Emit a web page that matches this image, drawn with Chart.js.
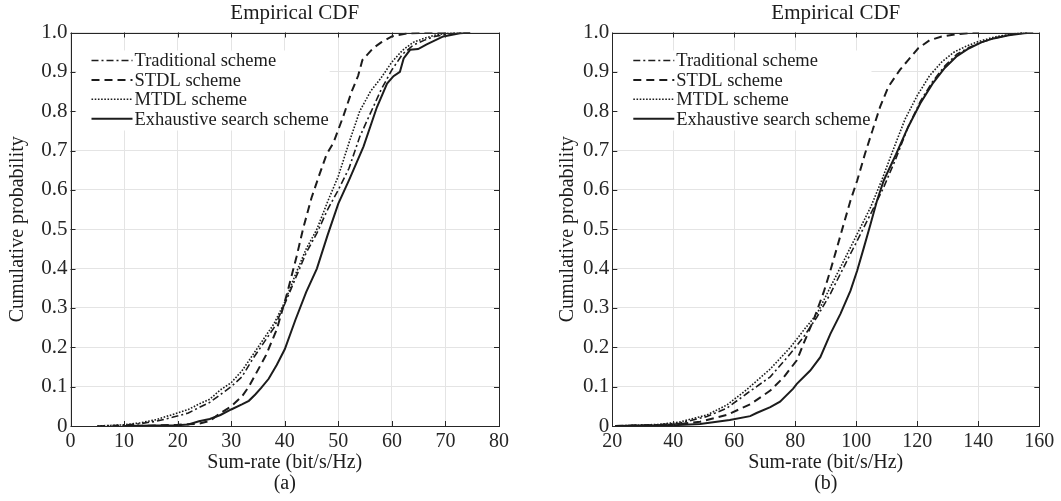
<!DOCTYPE html>
<html>
<head>
<meta charset="utf-8">
<script src="https://cdn.jsdelivr.net/npm/chart.js@4.4.1/dist/chart.umd.min.js"></script>
<style>
  html, body { margin: 0; padding: 0; background: #fff; }
  #wrap { position: relative; width: 1061px; height: 501px; overflow: hidden; }
  canvas { position: absolute; top: 0; }
  #chartA { left: 0; }
  #chartB { left: 530px; }
</style>
</head>
<body>
<div id="wrap">
  <canvas id="chartA" width="530" height="501"></canvas>
  <canvas id="chartB" width="531" height="501"></canvas>
</div>
<script>
const seriesNames = ['Traditional scheme', 'STDL scheme', 'MTDL scheme', 'Exhaustive search scheme'];
const yTicks = [0, 0.1, 0.2, 0.3, 0.4, 0.5, 0.6, 0.7, 0.8, 0.9, 1.0];
const yTickLabels = ['0', '0.1', '0.2', '0.3', '0.4', '0.5', '0.6', '0.7', '0.8', '0.9', '1.0'];

// panel (a)
const aXTicks = [0, 10, 20, 30, 40, 50, 60, 70, 80];
const aTradX = [5, 10, 13, 16, 19, 22, 24, 26, 28, 30, 32, 34, 36, 38, 40, 42, 44, 46, 48, 50, 52, 54, 56, 58, 60, 62, 64, 66, 68, 70, 72, 75];
const aTradY = [0, 0.002, 0.006, 0.012, 0.022, 0.033, 0.047, 0.06, 0.08, 0.1, 0.125, 0.17, 0.21, 0.25, 0.31, 0.375, 0.44, 0.49, 0.55, 0.6, 0.655, 0.735, 0.795, 0.855, 0.905, 0.945, 0.968, 0.98, 0.99, 0.995, 0.999, 1];
const aStdlX = [12, 20, 24, 26, 28, 30, 32, 33.3, 34.5, 36.5, 38.5, 40.3, 42.2, 43.4, 45, 46.5, 47.8, 49.1, 50.9, 52.5, 53.7, 54.5, 56.5, 58, 60, 63, 70];
const aStdlY = [0, 0.003, 0.006, 0.013, 0.033, 0.05, 0.075, 0.1, 0.13, 0.18, 0.245, 0.33, 0.43, 0.5, 0.58, 0.64, 0.69, 0.72, 0.786, 0.85, 0.89, 0.93, 0.96, 0.975, 0.99, 0.998, 1];
const aMtdlX = [5, 10, 13, 16, 19, 22, 24, 26, 28, 30, 32, 34, 36, 38, 40, 42, 44, 46, 48, 50, 52, 54, 56, 58, 60, 62, 64, 66, 68, 70, 73];
const aMtdlY = [0, 0.003, 0.008, 0.016, 0.029, 0.042, 0.056, 0.068, 0.092, 0.11, 0.14, 0.18, 0.22, 0.26, 0.315, 0.385, 0.45, 0.5, 0.57, 0.635, 0.72, 0.8, 0.85, 0.885, 0.925, 0.955, 0.975, 0.985, 0.993, 0.998, 1];
const aExhX = [10, 16, 20, 22, 24, 26, 28, 30, 32, 33.3, 34.5, 35.6, 37, 38.5, 40, 42, 44, 46, 48, 50, 52, 54.7, 57.2, 59.1, 60.3, 61.5, 62.2, 63.4, 64.9, 66.5, 69.6, 72.7, 74.6];
const aExhY = [0, 0.001, 0.002, 0.004, 0.012, 0.018, 0.028, 0.042, 0.055, 0.064, 0.08, 0.097, 0.12, 0.155, 0.195, 0.27, 0.34, 0.4, 0.485, 0.565, 0.625, 0.71, 0.81, 0.87, 0.889, 0.9, 0.934, 0.956, 0.958, 0.97, 0.99, 0.998, 1];

// panel (b)
const bXTicks = [20, 40, 60, 80, 100, 120, 140, 160];
const bTradX = [21, 35, 42, 51, 57.5, 64, 71.8, 78.4, 82.7, 87.1, 91.5, 95.9, 100.3, 104.7, 109, 113, 117, 121, 125, 129, 133, 137, 141, 145, 150, 156];
const bTradY = [0, 0.003, 0.007, 0.024, 0.045, 0.082, 0.125, 0.184, 0.226, 0.277, 0.336, 0.404, 0.471, 0.539, 0.607, 0.68, 0.76, 0.825, 0.875, 0.915, 0.945, 0.962, 0.975, 0.985, 0.994, 1];
const bStdlX = [21, 35, 42, 48.8, 57.5, 65.2, 71.8, 76.2, 80.5, 82.7, 86, 89.3, 91.5, 93.7, 95.9, 98.1, 100.3, 102.9, 105, 107.8, 110.5, 114.3, 117, 120.3, 124, 128, 133, 140];
const bStdlY = [0, 0.002, 0.005, 0.011, 0.028, 0.055, 0.09, 0.124, 0.167, 0.209, 0.27, 0.34, 0.395, 0.454, 0.514, 0.573, 0.624, 0.693, 0.744, 0.811, 0.862, 0.905, 0.93, 0.96, 0.98, 0.99, 0.996, 1];
const bMtdlX = [21, 35, 42, 51, 57.5, 64, 71.8, 78.4, 82.7, 87.1, 91.5, 95.9, 100.3, 104.7, 108.3, 112, 116, 120, 124, 128, 132, 136, 140, 145, 150, 155];
const bMtdlY = [0, 0.004, 0.01, 0.028, 0.053, 0.092, 0.145, 0.2, 0.243, 0.285, 0.353, 0.42, 0.488, 0.556, 0.624, 0.7, 0.78, 0.84, 0.89, 0.925, 0.95, 0.965, 0.977, 0.988, 0.995, 1];
const bExhX = [21, 30, 40, 48.8, 58.5, 65.2, 67.3, 71.8, 75, 79.3, 80.5, 84.9, 88.2, 91.5, 94.8, 98.1, 100.3, 102.5, 104.7, 106.8, 109, 113, 117, 121, 125, 129, 133, 137, 141, 145, 150, 155, 158];
const bExhY = [0, 0.001, 0.002, 0.005, 0.015, 0.025, 0.033, 0.048, 0.062, 0.095, 0.107, 0.141, 0.175, 0.234, 0.285, 0.344, 0.395, 0.454, 0.514, 0.573, 0.624, 0.69, 0.76, 0.82, 0.87, 0.91, 0.94, 0.96, 0.975, 0.985, 0.993, 0.998, 1];

const serif = "'Liberation Serif', 'Times New Roman', serif";
const ink = '#1c1c1c';
const styles = [
    { dash: [7, 3, 2, 3], width: 1.6 },   // dash-dot
    { dash: [8, 5], width: 2 },           // dashed
    { dash: [1.6, 1.6], width: 1.6 },     // dotted
    { dash: [], width: 2 }                // solid
];

function pts(xs, ys) {
    return xs.map((x, i) => ({ x: x, y: ys[i] }));
}

// box, inward ticks, title and legend, MATLAB style
const frame = {
    id: 'frame',
    afterDraw(chart, args, opts) {
        const ctx = chart.ctx;
        const a = chart.chartArea;
        const sx = chart.scales.x, sy = chart.scales.y;
        ctx.save();
        ctx.strokeStyle = '#262626';
        ctx.lineWidth = 1;
        ctx.setLineDash([]);
        ctx.beginPath();
        sx.ticks.forEach(t => {
            const px = Math.round(sx.getPixelForValue(t.value)) + 0.5;
            ctx.moveTo(px, a.bottom); ctx.lineTo(px, a.bottom - 5);
            ctx.moveTo(px, a.top); ctx.lineTo(px, a.top + 5);
        });
        sy.ticks.forEach(t => {
            const py = Math.round(sy.getPixelForValue(t.value)) + 0.5;
            ctx.moveTo(a.left, py); ctx.lineTo(a.left + 5, py);
            ctx.moveTo(a.right, py); ctx.lineTo(a.right - 5, py);
        });
        ctx.stroke();
        ctx.strokeRect(Math.round(a.left) + 0.5, Math.round(a.top) + 0.5,
            Math.round(a.right) - Math.round(a.left), Math.round(a.bottom) - Math.round(a.top));

        // title
        ctx.fillStyle = ink;
        ctx.font = '21px ' + serif;
        ctx.textAlign = 'center';
        ctx.textBaseline = 'middle';
        ctx.fillText(opts.title, (a.left + a.right) / 2 + opts.titleShift, 13);

        // legend
        ctx.font = '18.5px ' + serif;
        ctx.textAlign = 'left';
        const textX = a.left + 64;
        let w = 0;
        chart.data.datasets.forEach(d => { w = Math.max(w, ctx.measureText(d.label).width); });
        ctx.fillStyle = '#fff';
        ctx.fillRect(a.left + 6, a.top + 18, textX + w + 1 - (a.left + 6), 80);
        chart.data.datasets.forEach((d, i) => {
            const y = a.top + 28 + i * 19.4;
            ctx.strokeStyle = ink;
            ctx.lineWidth = d.borderWidth;
            ctx.setLineDash(d.borderDash);
            ctx.beginPath();
            ctx.moveTo(a.left + 21, y);
            ctx.lineTo(a.left + 62, y);
            ctx.stroke();
            ctx.fillStyle = ink;
            ctx.fillText(d.label, textX, y + 1);
        });
        ctx.restore();
    }
};

function makePanel(id, series, xTicks, p) {
    const datasets = series.map((s, i) => ({
        label: seriesNames[i],
        data: pts(s[0], s[1]),
        showLine: true,
        borderColor: ink,
        borderWidth: styles[i].width,
        borderDash: styles[i].dash,
        pointRadius: 0,
        tension: 0,
        fill: false
    }));
    return new Chart(document.getElementById(id), {
        type: 'scatter',
        data: { datasets: datasets },
        plugins: [frame],
        options: {
            responsive: false,
            animation: false,
            layout: { padding: { top: 32.5, right: p.padRight, bottom: 0, left: 0 } },
            plugins: {
                legend: { display: false },
                tooltip: { enabled: false },
                frame: { title: 'Empirical CDF', titleShift: 10 }
            },
            scales: {
                x: {
                    type: 'linear',
                    min: xTicks[0],
                    max: xTicks[xTicks.length - 1],
                    afterBuildTicks: scale => { scale.ticks = xTicks.map(v => ({ value: v })); },
                    afterFit: scale => { scale.height = 75; },
                    grid: { color: '#e4e4e4', drawTicks: false },
                    border: { display: false },
                    ticks: { color: '#262626', padding: 3.5, maxRotation: 0, font: { family: serif, size: 20 } },
                    title: {
                        display: true,
                        text: ['Sum-rate (bit/s/Hz)', p.tag],
                        color: ink,
                        font: { family: serif, size: 20, lineHeight: 1.05 },
                        padding: { top: 0, bottom: 6.5 }
                    }
                },
                y: {
                    min: 0,
                    max: 1,
                    afterBuildTicks: scale => { scale.ticks = yTicks.map(v => ({ value: v })); },
                    afterFit: scale => { scale.width = p.yWidth; },
                    grid: { color: '#e4e4e4', drawTicks: false },
                    border: { display: false },
                    ticks: {
                        color: '#262626',
                        padding: 3,
                        font: { family: serif, size: 21 },
                        callback: (v, i) => yTickLabels[i]
                    },
                    title: {
                        display: true,
                        text: 'Cumulative probability',
                        color: ink,
                        font: { family: serif, size: 20, lineHeight: 1.05 },
                        padding: { top: p.yTitlePad, bottom: 0 }
                    }
                }
            }
        }
    });
}

makePanel('chartA', [[aTradX, aTradY], [aStdlX, aStdlY], [aMtdlX, aMtdlY], [aExhX, aExhY]], aXTicks,
    { padRight: 31, yWidth: 70.5, yTitlePad: 7.5, tag: '(a)' });
makePanel('chartB', [[bTradX, bTradY], [bStdlX, bStdlY], [bMtdlX, bMtdlY], [bExhX, bExhY]], bXTicks,
    { padRight: 21.7, yWidth: 82.3, yTitlePad: 27.5, tag: '(b)' });
</script>
</body>
</html>
